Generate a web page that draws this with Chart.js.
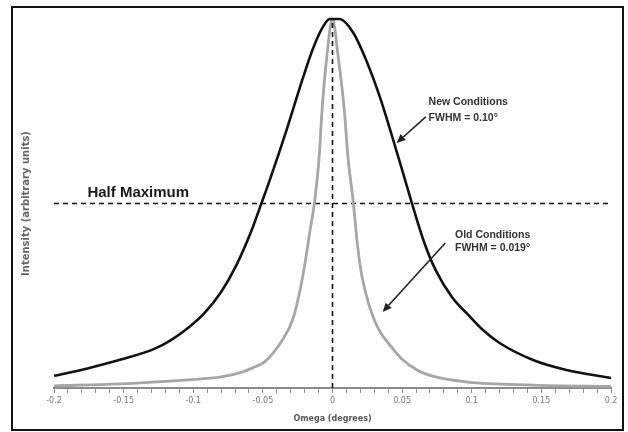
<!DOCTYPE html>
<html>
<head>
<meta charset="utf-8">
<script src="https://cdn.jsdelivr.net/npm/chart.js@4"></script>
<style>
  html, body { margin: 0; padding: 0; background: #fff; }
  #wrap { width: 628px; height: 432px; position: relative; }
</style>
</head>
<body>
<div id="wrap"><canvas id="myChart" width="628" height="432"></canvas></div>
<script>
// omega in degrees, intensity normalised to the peak
const omegaNew = [-0.2, -0.176, -0.152, -0.128, -0.116, -0.104, -0.092, -0.080, -0.069, -0.058, -0.051, -0.045, -0.033, -0.021, -0.014, -0.007, -0.002,
  0.005, 0.015, 0.025, 0.034, 0.043, 0.050, 0.057, 0.066, 0.074, 0.086, 0.097, 0.108, 0.120, 0.144, 0.168, 0.2];
const intensityNew = [0.033, 0.053, 0.077, 0.106, 0.130, 0.162, 0.203, 0.260, 0.333, 0.428, 0.501, 0.564, 0.699, 0.843, 0.920, 0.978, 1.0,
  1.0, 0.962, 0.881, 0.789, 0.680, 0.591, 0.501, 0.393, 0.320, 0.245, 0.200, 0.157, 0.122, 0.076, 0.049, 0.027];

const omegaOld = [-0.2, -0.152, -0.104, -0.080, -0.065, -0.056, -0.049, -0.036, -0.028, -0.021, -0.016, -0.013, -0.0095, -0.0075, -0.004,
  0.0, 0.004, 0.0085, 0.011, 0.015, 0.018, 0.021, 0.026, 0.033, 0.043, 0.050, 0.061, 0.072, 0.097, 0.144, 0.2];
const intensityOld = [0.006, 0.011, 0.022, 0.030, 0.043, 0.057, 0.070, 0.130, 0.192, 0.310, 0.430, 0.501, 0.630, 0.753, 0.900,
  1.0, 0.900, 0.753, 0.630, 0.501, 0.385, 0.305, 0.228, 0.160, 0.108, 0.078, 0.048, 0.032, 0.016, 0.008, 0.004];

const halfMax = 0.5;
const xRange = [-0.2, 0.2];
const labelStep = 0.05;
const minorStep = 0.01;

const toPoints = (xs, ys) => xs.map((x, i) => ({x: x, y: ys[i]}));

const notes = [
  {text: 'Half Maximum', x: -0.176, y: 0.528, font: 'bold 15px "Liberation Sans", Arial, sans-serif', color: '#1a1a1a'},
  {text: 'New Conditions', x: 0.069, y: 0.775, font: 'bold 10.5px "Liberation Sans", Arial, sans-serif', color: '#333'},
  {text: 'FWHM = 0.10°', x: 0.069, y: 0.732, font: 'bold 10.5px "Liberation Sans", Arial, sans-serif', color: '#333'},
  {text: 'Old Conditions', x: 0.088, y: 0.415, font: 'bold 10.5px "Liberation Sans", Arial, sans-serif', color: '#333'},
  {text: 'FWHM = 0.019°', x: 0.088, y: 0.379, font: 'bold 10.5px "Liberation Sans", Arial, sans-serif', color: '#333'}
];
const arrows = [
  {from: [0.067, 0.735], to: [0.046, 0.664]},
  {from: [0.081, 0.393], to: [0.036, 0.206]}
];

const extras = {
  id: 'extras',
  beforeDraw(chart) {
    const c = chart.ctx;
    c.save();
    c.fillStyle = '#fff';
    c.fillRect(0, 0, chart.width, chart.height);
    c.strokeStyle = '#111';
    c.lineWidth = 2;
    c.strokeRect(12, 7, 611, 423);
    c.restore();
  },
  afterDraw(chart) {
    const c = chart.ctx, sx = chart.scales.x, sy = chart.scales.y;
    c.save();
    c.textBaseline = 'middle';
    c.textAlign = 'left';
    notes.forEach(n => {
      c.font = n.font;
      c.fillStyle = n.color;
      c.fillText(n.text, sx.getPixelForValue(n.x), sy.getPixelForValue(n.y));
    });
    c.strokeStyle = '#222';
    c.fillStyle = '#222';
    c.lineWidth = 1.6;
    arrows.forEach(a => {
      const x1 = sx.getPixelForValue(a.from[0]), y1 = sy.getPixelForValue(a.from[1]);
      const x2 = sx.getPixelForValue(a.to[0]), y2 = sy.getPixelForValue(a.to[1]);
      const ang = Math.atan2(y2 - y1, x2 - x1);
      const hl = 9, hw = 4;
      const bx = x2 - hl * Math.cos(ang), by = y2 - hl * Math.sin(ang);
      c.beginPath();
      c.moveTo(x1, y1);
      c.lineTo(bx, by);
      c.stroke();
      c.beginPath();
      c.moveTo(x2, y2);
      c.lineTo(bx + hw * Math.sin(ang), by - hw * Math.cos(ang));
      c.lineTo(bx - hw * Math.sin(ang), by + hw * Math.cos(ang));
      c.closePath();
      c.fill();
    });
    c.restore();
  }
};

const ctx = document.getElementById('myChart').getContext('2d');
const myChart = new Chart(ctx, {
  type: 'scatter',
  data: {
    datasets: [
      {
        label: 'Half maximum',
        data: [{x: xRange[0], y: halfMax}, {x: xRange[1], y: halfMax}],
        showLine: true, borderColor: '#111', borderWidth: 1.4, borderDash: [5, 4],
        pointRadius: 0, order: 3
      },
      {
        label: 'Centre',
        data: [{x: 0, y: 0}, {x: 0, y: 1}],
        showLine: true, borderColor: '#111', borderWidth: 1.6, borderDash: [5, 4],
        pointRadius: 0, order: 0
      },
      {
        label: 'Old Conditions',
        data: toPoints(omegaOld, intensityOld),
        showLine: true, borderColor: '#a6a6a6', borderWidth: 2.8,
        cubicInterpolationMode: 'monotone', pointRadius: 0, clip: false, order: 2
      },
      {
        label: 'New Conditions',
        data: toPoints(omegaNew, intensityNew),
        showLine: true, borderColor: '#111', borderWidth: 2.6,
        cubicInterpolationMode: 'monotone', pointRadius: 0, clip: false, order: 1
      }
    ]
  },
  options: {
    responsive: false,
    animation: false,
    layout: {padding: {top: 19, right: 17, bottom: 0, left: 0}},
    plugins: {legend: {display: false}, tooltip: {enabled: false}},
    scales: {
      x: {
        type: 'linear',
        min: xRange[0],
        max: xRange[1],
        afterFit(scale) { scale.height = 44; },
        border: {display: true, color: '#8c8c8c', width: 2},
        grid: {drawOnChartArea: false, drawTicks: true, tickLength: 5, color: '#8c8c8c', lineWidth: 1},
        ticks: {
          stepSize: minorStep,
          autoSkip: false,
          maxRotation: 0,
          padding: 3,
          color: '#777',
          font: {family: 'Verdana, "DejaVu Sans", sans-serif', size: 8},
          callback(v) {
            const k = Math.round(v / minorStep);
            if (k % Math.round(labelStep / minorStep) !== 0) return '';
            return String(Math.round(v * 100) / 100);
          }
        },
        title: {
          display: true,
          text: 'Omega (degrees)',
          color: '#555',
          font: {family: 'Verdana, "DejaVu Sans", sans-serif', size: 8, weight: 'bold'},
          padding: {top: 0, bottom: 8}
        }
      },
      y: {
        min: 0,
        max: 1,
        afterFit(scale) { scale.width = 54; },
        border: {display: false},
        grid: {display: false},
        ticks: {display: false},
        title: {
          display: true,
          text: 'Intensity (arbitrary units)',
          color: '#666',
          font: {family: 'Verdana, "DejaVu Sans", sans-serif', size: 10, weight: 'bold'},
          padding: {top: 20, bottom: 0}
        }
      }
    }
  },
  plugins: [extras]
});
</script>
</body>
</html>
